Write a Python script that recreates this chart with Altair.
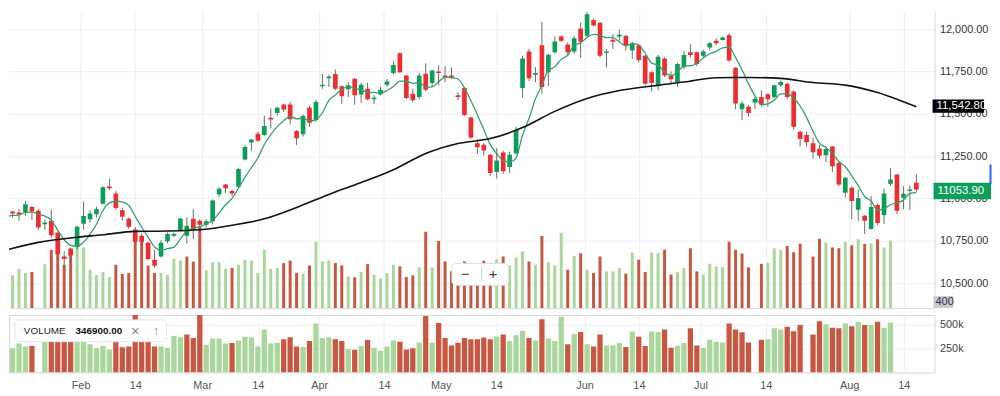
import altair as alt
import pandas as pd

# ---------------- data ----------------
opens = [10906, 10923, 10917, 10917, 10950, 10927, 10848, 10868, 10798, 10657,
         10704, 10713, 10851, 10878, 10907, 10969, 11071, 11029, 10931, 10880,
         10815, 10780, 10739, 10638, 10657, 10747, 10780, 10814, 10780, 10880,
         10868, 10845, 10866, 11024, 11083, 11044, 11069, 11231, 11331, 11383,
         11376, 11477, 11506, 11555, 11555, 11399, 11379, 11536, 11464, 11663,
         11711, 11736, 11663, 11645, 11707, 11614, 11649, 11587, 11614, 11672,
         11741, 11858, 11727, 11619, 11600, 11737, 11682, 11751, 11727, 11727,
         11610, 11653, 11479, 11327, 11317, 11259, 11157, 11272, 11186, 11268,
         11653, 11868, 11731, 11906, 11746, 11864, 11957, 11910, 11868, 12004,
         11961, 12055, 12039, 11860, 11938, 11957, 11961, 11874, 11906, 11844,
         11746, 11663, 11828, 11727, 11688, 11776, 11864, 11864, 11844, 11893,
         11932, 11936, 11965, 11772, 11528, 11542, 11567, 11600, 11616, 11600,
         11669, 11678, 11633, 11395, 11376, 11327, 11294, 11255, 11307, 11210,
         11034, 11063, 10933, 10898, 10820, 10962, 10903, 11087, 11142, 11005,
         11044, 11093]
highs = [10921, 10927, 10938, 10985, 10956, 10938, 10874, 10935, 10804, 10687,
         10710, 10839, 10982, 10930, 10952, 11073, 11118, 11044, 10944, 10889,
         10833, 10794, 10745, 10698, 10754, 10800, 10800, 10886, 10889, 10937,
         10878, 10877, 10995, 11067, 11087, 11053, 11180, 11317, 11352, 11395,
         11489, 11532, 11541, 11561, 11571, 11405, 11496, 11547, 11581, 11736,
         11731, 11762, 11669, 11688, 11711, 11684, 11684, 11610, 11659, 11707,
         11811, 11861, 11731, 11649, 11742, 11799, 11760, 11786, 11782, 11776,
         11629, 11659, 11483, 11352, 11327, 11262, 11297, 11282, 11278, 11424,
         11844, 11883, 11776, 12043, 11854, 11957, 11965, 11922, 11961, 12039,
         12102, 12063, 12043, 11883, 11971, 11997, 11965, 11926, 11912, 11848,
         11751, 11848, 11834, 11751, 11801, 11874, 11912, 11868, 11879, 11926,
         11946, 11957, 11977, 11776, 11575, 11552, 11600, 11639, 11622, 11672,
         11698, 11684, 11639, 11399, 11395, 11360, 11317, 11302, 11311, 11220,
         11126, 11073, 11054, 10903, 11015, 10970, 11060, 11180, 11145, 11073,
         11077, 11145]
lows = [10880, 10888, 10868, 10897, 10874, 10814, 10815, 10767, 10634, 10585,
        10622, 10702, 10815, 10856, 10887, 10966, 11050, 10931, 10868, 10820,
        10728, 10716, 10634, 10591, 10652, 10735, 10772, 10810, 10734, 10761,
        10792, 10829, 10845, 11009, 11032, 11015, 11063, 11225, 11282, 11337,
        11370, 11414, 11489, 11512, 11438, 11317, 11366, 11424, 11454, 11649,
        11659, 11639, 11561, 11600, 11555, 11565, 11581, 11557, 11610, 11659,
        11731, 11742, 11587, 11567, 11587, 11633, 11659, 11669, 11688, 11707,
        11581, 11489, 11352, 11262, 11255, 11132, 11118, 11145, 11151, 11259,
        11596, 11694, 11688, 11619, 11665, 11854, 11926, 11848, 11854, 11834,
        11951, 12016, 11834, 11776, 11883, 11932, 11874, 11824, 11805, 11669,
        11633, 11639, 11717, 11678, 11659, 11766, 11834, 11782, 11834, 11874,
        11906, 11932, 11809, 11528, 11464, 11483, 11528, 11542, 11542, 11594,
        11659, 11587, 11405, 11307, 11307, 11235, 11235, 11215, 11157, 11073,
        11005, 10878, 10868, 10790, 10818, 10843, 10849, 11073, 10908, 10937,
        10931, 11040]
closes = [10889, 10911, 10905, 10966, 10924, 10829, 10858, 10783, 10671, 10642,
          10663, 10833, 10897, 10911, 10937, 11067, 11060, 10944, 10892, 10833,
          10745, 10745, 10643, 10602, 10739, 10790, 10790, 10882, 10839, 10815,
          10845, 10865, 10989, 11058, 11060, 11029, 11174, 11304, 11348, 11342,
          11429, 11467, 11536, 11526, 11469, 11356, 11487, 11448, 11571, 11672,
          11721, 11649, 11604, 11669, 11610, 11672, 11587, 11596, 11643, 11692,
          11789, 11746, 11594, 11581, 11727, 11643, 11756, 11741, 11717, 11716,
          11600, 11493, 11360, 11303, 11284, 11151, 11224, 11161, 11259, 11405,
          11828, 11711, 11742, 11659, 11850, 11928, 11932, 11864, 11947, 11926,
          12088, 12023, 11844, 11869, 11926, 11967, 11906, 11916, 11819, 11678,
          11684, 11838, 11727, 11704, 11795, 11848, 11848, 11795, 11868, 11918,
          11918, 11951, 11815, 11561, 11561, 11506, 11590, 11555, 11587, 11669,
          11688, 11600, 11424, 11352, 11333, 11274, 11253, 11292, 11190, 11083,
          11122, 10985, 11001, 10868, 10950, 10855, 11030, 11112, 10927, 11028,
          11054, 11053.9]
volumes_k = [250, 252, 303, 270, 277, 0, 338, 448, 511, 334,
             448, 473, 466, 295, 252, 277, 239, 334, 262, 270,
             605, 550, 328, 270, 270, 257, 379, 366, 397, 359,
             631, 290, 353, 353, 303, 308, 334, 372, 366, 270,
             448, 303, 308, 346, 366, 270, 265, 328, 511, 359,
             366, 346, 328, 244, 237, 277, 338, 257, 227, 270,
             334, 321, 239, 252, 313, 588, 313, 517, 359, 282,
             310, 359, 346, 346, 364, 346, 376, 397, 328, 389,
             435, 359, 334, 555, 353, 328, 580, 295, 402, 422,
             295, 270, 397, 282, 282, 308, 265, 427, 372, 277,
             427, 422, 448, 257, 277, 308, 460, 282, 257, 341,
             321, 313, 511, 448, 420, 313, 0, 340, 346, 460,
             448, 477, 430, 496, 0, 397, 534, 504, 466, 460,
             511, 483, 529, 494, 498, 529, 466, 521, 0, 0,
             0, 0]
vol_dir = ("u u u u d u u d d d "
           "d u u u u u u d d d "
           "d d d d u u u u d d "
           "d u u u u d u u u u "
           "u u u d d d u d u u "
           "u d d u d u d u u u "
           "u d d d u d u d d d "
           "d d d d d d u d u u "
           "u d u d u u u d u d "
           "u d d u u u d u d d "
           "u u d d u u d d u u "
           "u u d d d d u d u u "
           "u d d d u d d u d d "
           "u d u d u d u u u u "
           "u u").split()

# long moving average (black line)
ma_long_idx = [0, 5, 10, 15, 20, 25, 30, 35, 40, 45, 50, 55, 60, 65, 70, 75, 80,
               85, 90, 95, 100, 105, 110, 115, 120, 125, 130, 135, 140, 141]
ma_long_val = [10696, 10741, 10767, 10786, 10806, 10808, 10815, 10842, 10880, 10947,
               11024, 11094, 11170, 11266, 11325, 11354, 11419, 11515, 11591, 11638,
               11665, 11688, 11714, 11715, 11710, 11685, 11670, 11626, 11557, 11542.8]

tick_idx = [11.54, 20.0, 30.37, 38.98, 48.49, 58.54, 67.32, 75.93, 89.6, 98.03,
            107.56, 117.69, 130.6, 139.06]
tick_labels = ["Feb", "14", "Mar", "14", "Apr", "14", "May", "14", "Jun", "14",
               "Jul", "14", "Aug", "14"]
price_ticks = [10500, 10750, 11000, 11250, 11500, 11750, 12000]
vol_ticks = [250000, 500000]
volume_readout = "346900.00"

# ---------------- tables ----------------
df = pd.DataFrame({
    "i": list(range(len(closes))),
    "open": opens, "high": highs, "low": lows, "close": closes,
    "volume": [v * 1000 for v in volumes_k],
    "vdir": ["up" if d == "u" else "down" for d in vol_dir],
})
ma_df = pd.DataFrame({"i": ma_long_idx, "ma": ma_long_val})
one = pd.DataFrame({"k": [0]})

FONT = "Liberation Sans"
GREEN = "#0b9e59"
RED = "#ef2d31"
VGREEN = "#a9d69b"
VRED = "#c9563f"
WICK = "#6a6a6a"
GRID = "#efefef"

W, H_UP, H_LO = 934, 300, 58

xs = alt.Scale(domain=[1.2149, 143.052], nice=False, zero=False)
ps = alt.Scale(domain=[10353.0, 12109.5], nice=False, zero=False)

label_expr = "".join(
    f"abs(datum.value - {v}) < 0.01 ? '{l}' : " for v, l in zip(tick_idx, tick_labels)
) + "''"

x_up = alt.X("i:Q", scale=xs, axis=alt.Axis(values=tick_idx, labels=False, ticks=False,
                                             domain=True, domainColor="#dcdcdc",
                                             grid=True, gridColor=GRID, title=None))

price_axis = alt.Axis(orient="right", values=price_ticks, format=",.2f", labelFontSize=11,
                      labelColor="#333333", labelFont=FONT, ticks=False, domain=True,
                      domainColor="#d6d6d6", grid=True, gridColor=GRID, labelPadding=5,
                      title=None)

base = alt.Chart(df)

vol_color = alt.Color("vdir:N", scale=alt.Scale(domain=["up", "down"], range=[VGREEN, VRED]),
                      legend=None)

vol_up = base.mark_bar(size=3, clip=True).encode(
    x=x_up,
    y=alt.Y("volume:Q", scale=alt.Scale(domain=[0, 2290000], nice=False, zero=False), axis=None),
    color=vol_color,
)

wicks = base.mark_rule(color=WICK, strokeWidth=1, clip=True).encode(
    x=x_up, y=alt.Y("low:Q", scale=ps, axis=price_axis), y2="high:Q"
)

bodies = base.mark_bar(size=4.7, clip=True).encode(
    x=x_up, y=alt.Y("open:Q", scale=ps, axis=None), y2="close:Q",
    color=alt.condition("datum.close >= datum.open", alt.value(GREEN), alt.value(RED)),
)

sma = base.transform_window(
    sma="mean(close)", frame=[-4, 0], sort=[alt.SortField("i", order="ascending")]
).mark_line(color="#3b9d68", strokeWidth=1.3, clip=True, interpolate="monotone").encode(
    x=x_up, y=alt.Y("sma:Q", scale=ps, axis=None)
)

ma_long = alt.Chart(ma_df).mark_line(color="#111111", strokeWidth=1.6, clip=True,
                                     interpolate="monotone").encode(
    x=x_up, y=alt.Y("ma:Q", scale=ps, axis=None)
)

deco = alt.Chart(one)

def box(x1, x2, y1, y2, fill, stroke="transparent", radius=0):
    return deco.mark_rect(fill=fill, stroke=stroke, strokeWidth=1, cornerRadius=radius).encode(
        x=alt.value(x1), x2=alt.value(x2), y=alt.value(y1), y2=alt.value(y2))

def label(x, y, text, color, size=11, weight="normal", align="left"):
    return deco.mark_text(align=align, baseline="middle", fontSize=size, fontWeight=weight,
                          color=color, font=FONT).encode(
        x=alt.value(x), y=alt.value(y), text=alt.value(text))

ma_box = box(932, 984, 89.5, 103, "#000000")
ma_txt = label(936, 96.5, f"{ma_long_val[-1]:,.2f}", "#ffffff", size=11.5)
px_box = box(933, 991, 173.7, 190.3, "#0b9e59")
px_txt = label(937, 182.2, f"{closes[-1]:.2f}", "#ffffff", size=11.5)
v_box = box(933, 953, 288, 300, "#c5cad3")
v_txt = label(935, 294.3, "400", "#333333", size=11)
blue = deco.mark_rule(color="#2962ff", strokeWidth=2).encode(
    x=alt.value(990.5), y=alt.value(155), y2=alt.value(175))

zbox = box(447, 504, 255, 277, "#ffffff", stroke="#e0e0e0", radius=4)
zminus = label(460.5, 265.5, "\u2212", "#444444", size=15, align="center")
zsep = deco.mark_rule(color="#d0d0d0", strokeWidth=1).encode(
    x=alt.value(477), y=alt.value(259), y2=alt.value(273))
zplus = label(488.5, 265.5, "+", "#444444", size=15, align="center")

upper = alt.layer(
    vol_up, wicks, bodies, sma, ma_long,
    ma_box, ma_txt, px_box, px_txt, v_box, v_txt, blue,
    zbox, zminus, zsep, zplus,
).resolve_scale(y="independent").properties(width=W, height=H_UP)

# ---------------- lower volume panel ----------------
x_lo = alt.X("i:Q", scale=xs, axis=alt.Axis(values=tick_idx, labelExpr=label_expr, ticks=False,
                                             domain=False, grid=True, gridColor=GRID,
                                             labelFontSize=11, labelColor="#555555",
                                             labelFont=FONT, labelPadding=7, labelFlush=False,
                                             labelOverlap=False, title=None))

vol_lo = base.mark_bar(size=5.3, clip=True).encode(
    x=x_lo,
    y=alt.Y("volume:Q", scale=alt.Scale(domain=[0, 600000], nice=False, zero=False),
            axis=alt.Axis(orient="right", values=vol_ticks, format="~s", ticks=False,
                          domain=False, grid=True, gridColor=GRID, labelFontSize=11,
                          labelColor="#444444", labelFont=FONT, labelPadding=5, title=None)),
    color=vol_color,
)

vbox = box(6, 159, 5, 27, "#ffffff", stroke="#e4e4e4", radius=4)
vname = label(15, 16.5, "VOLUME", "#222222", size=10)
vval = label(67, 16.5, volume_readout, "#111111", size=10, weight="bold")
vx = label(127.5, 16, "\u00d7", "#888888", size=15, align="center")
vup = label(148.5, 16, "\u2191", "#888888", size=13, align="center")

lower = alt.layer(vol_lo, vbox, vname, vval, vx, vup).properties(
    width=W, height=H_LO, view=alt.ViewBackground(stroke="#d3d6dc"))

chart = alt.vconcat(upper, lower, spacing=5).properties(padding=0).configure(
    font=FONT).configure_view(stroke="transparent")

chart.save("out.html", embed_options={"renderer": "svg", "actions": False})
